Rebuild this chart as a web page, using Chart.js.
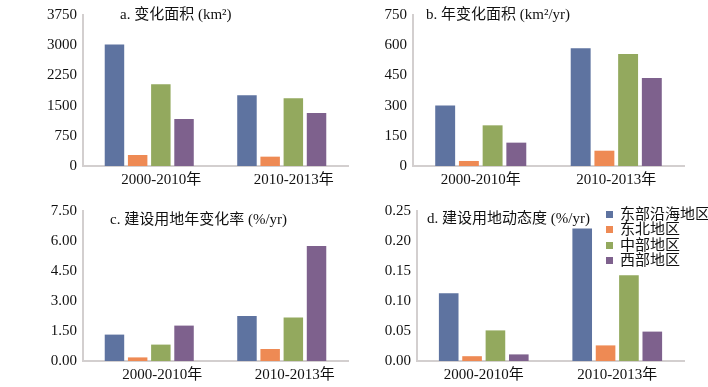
<!DOCTYPE html>
<html>
<head>
<meta charset="utf-8">
<script src="https://cdn.jsdelivr.net/npm/chart.js@4"></script>
<style>
    body { margin: 0; background: #fff; }
    #wrap { position: relative; width: 708px; height: 387px; overflow: hidden; }
    #wrap canvas { position: absolute; }
    #legend { position: absolute; left: 606px; top: 207px; font-family: 'Liberation Serif', 'Noto Sans CJK SC'; font-size: 15px; color: #111; }
    #legend div { height: 15.3px; line-height: 15.3px; white-space: nowrap; display: flex; align-items: center; }
    #legend span.sw { display: inline-block; width: 7px; height: 7px; margin-right: 7px; }
</style>
</head>
<body>
<div id="wrap">
    <canvas id="chart-a" width="354" height="195" style="left:0;top:0"></canvas>
    <canvas id="chart-b" width="354" height="195" style="left:354px;top:0"></canvas>
    <canvas id="chart-c" width="354" height="192" style="left:0;top:195px"></canvas>
    <canvas id="chart-d" width="354" height="192" style="left:354px;top:195px"></canvas>
    <div id="legend"></div>
</div>
<script>
const periods = ['2000-2010年', '2010-2013年'];
const regions = ['东部沿海地区', '东北地区', '中部地区', '西部地区'];
const regionColors = ['#5E73A0', '#EE8A54', '#93A95E', '#7E618D'];

// values per region: [2000-2010, 2010-2013]
const changeArea = [[3020, 1755], [273, 232], [2029, 1681], [1167, 1316]];
const annualArea = [[301, 585], [25, 76], [202, 556], [116, 437]];
const landRate = [[1.32, 2.25], [0.18, 0.60], [0.82, 2.18], [1.77, 5.75]];
const dynamicDegree = [[0.113, 0.221], [0.008, 0.026], [0.051, 0.143], [0.011, 0.049]];

const ticksA = [0, 750, 1500, 2250, 3000, 3750];
const ticksB = [0, 150, 300, 450, 600, 750];
const ticksC = [0, 1.5, 3, 4.5, 6, 7.5];
const ticksD = [0, 0.05, 0.1, 0.15, 0.2, 0.25];

const fontFamily = "'Liberation Serif', 'Noto Sans CJK SC', serif";
const axisColor = '#D3CFCF';

// panel title drawn inside plot area
const titlePlugin = {
    id: 'panelTitle',
    afterDraw(chart, args, opts) {
        const { ctx, chartArea } = chart;
        ctx.save();
        ctx.font = `15px ${fontFamily}`;
        ctx.fillStyle = '#111';
        ctx.textBaseline = 'middle';
        ctx.fillText(opts.text, chartArea.left + opts.dx, chartArea.top + opts.dy);
        ctx.restore();
    }
};

function makeChart(id, values, ticks, digits, cfg) {
    const ctx = document.getElementById(id).getContext('2d');
    return new Chart(ctx, {
        type: 'bar',
        data: {
            labels: periods,
            datasets: regions.map((r, i) => ({
                label: r,
                data: values[i],
                backgroundColor: regionColors[i],
                borderWidth: 0,
                categoryPercentage: 0.7,
                barPercentage: 0.84
            }))
        },
        options: {
            responsive: false,
            animation: false,
            devicePixelRatio: 1,
            layout: { padding: { top: cfg.top, right: cfg.right, left: 0, bottom: 0 } },
            plugins: {
                legend: { display: false },
                tooltip: { enabled: false },
                panelTitle: { text: cfg.title, dx: cfg.dx, dy: cfg.dy }
            },
            scales: {
                x: {
                    grid: { display: false, drawTicks: false },
                    border: { display: true, color: axisColor, width: 2 },
                    ticks: { color: '#111', font: { family: fontFamily, size: 15 }, padding: 5, labelOffset: cfg.labelOffset, maxRotation: 0 },
                    afterFit: s => { s.height = cfg.xh; }
                },
                y: {
                    min: ticks[0],
                    max: ticks[ticks.length - 1],
                    grid: { display: false, drawTicks: false },
                    border: { display: true, color: axisColor, width: 2 },
                    afterBuildTicks: s => { s.ticks = ticks.map(v => ({ value: v })); },
                    ticks: { color: '#111', font: { family: fontFamily, size: 15 }, padding: 6, callback: v => v.toFixed(digits) },
                    afterFit: s => { s.width = cfg.yw; }
                }
            }
        },
        plugins: [titlePlugin]
    });
}

makeChart('chart-a', changeArea, ticksA, 0, { top: 15, right: 6, xh: 29, yw: 83, labelOffset: 12, title: 'a. 变化面积 (km²)', dx: 37, dy: 0 });
makeChart('chart-b', annualArea, ticksB, 0, { top: 15, right: 24, xh: 29, yw: 59, labelOffset: 0, title: 'b. 年变化面积 (km²/yr)', dx: 13, dy: 0 });
makeChart('chart-c', landRate, ticksC, 2, { top: 16, right: 6, xh: 26, yw: 83, labelOffset: 13, title: 'c. 建设用地年变化率 (%/yr)', dx: 27, dy: 9 });
makeChart('chart-d', dynamicDegree, ticksD, 2, { top: 16, right: 24, xh: 26, yw: 63, labelOffset: 0, title: 'd. 建设用地动态度 (%/yr)', dx: 10, dy: 8 });

// legend
const legend = document.getElementById('legend');
legend.innerHTML = regions.map((r, i) =>
    `<div><span class="sw" style="background:${regionColors[i]}"></span>${r}</div>`
).join('');
</script>
</body>
</html>
